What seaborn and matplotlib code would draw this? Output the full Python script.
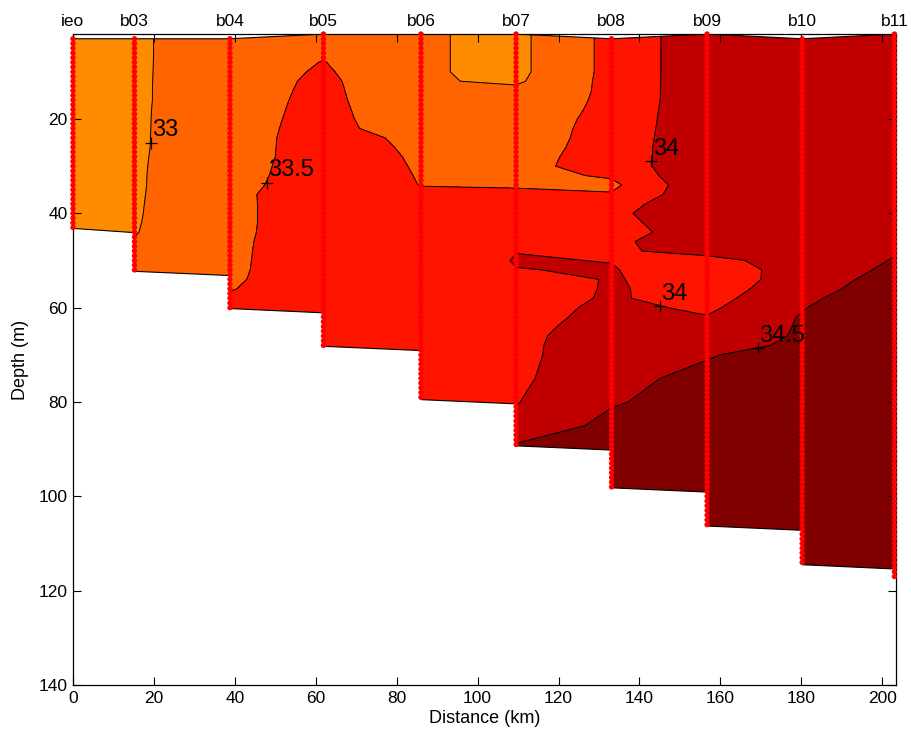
import numpy as np
import pandas as pd
import matplotlib
matplotlib.use("Agg")
import matplotlib.pyplot as plt
import seaborn as sns

# Stations along the section
stations = ["ieo", "b03", "b04", "b05", "b06", "b07", "b08", "b09", "b10", "b11"]
distance_km = [0.0, 15.2, 38.8, 61.9, 86.0, 109.5, 133.1, 156.7, 180.2, 203.0]
surface_depth = [3, 3, 3, 2, 2, 2, 3, 2, 3, 2]
bottom_depth = [43.2, 52.3, 60.2, 68.2, 79.5, 89.3, 98.2, 106.3, 114.5, 117.2]

# Common depth grid (m) of the gridded salinity profiles
grid_depth = list(range(2, 71, 2)) + list(range(75, 121, 5))

# Salinity profiles on grid_depth, from 2 m down to just below each station's bottom
sal_ieo = [32.80] * 23
sal_b03 = [32.950, 32.950, 32.950, 32.947, 32.945, 32.947, 32.942, 32.940, 32.941, 32.941,
           32.940, 32.940, 32.941, 32.947, 32.950, 32.952, 32.952, 32.950, 32.954, 32.959,
           32.968, 32.979, 33.021, 33.050, 33.050, 33.050, 33.050]
sal_b04 = [33.200, 33.200, 33.200, 33.215, 33.228, 33.225, 33.250, 33.260, 33.270, 33.280,
           33.290, 33.300, 33.300, 33.300, 33.310, 33.320, 33.330, 33.380, 33.400, 33.400,
           33.400, 33.420, 33.420, 33.430, 33.440, 33.450, 33.460, 33.480, 33.550, 33.600,
           33.620]
sal_b05 = [33.300, 33.350, 33.450, 33.515, 33.560, 33.606, 33.621, 33.640, 33.656, 33.672,
           33.687, 33.699, 33.706, 33.712, 33.730, 33.749, 33.786, 33.797, 33.740, 33.740,
           33.740, 33.703, 33.733, 33.720, 33.701, 33.681, 33.682, 33.747, 33.750, 33.750,
           33.750, 33.750, 33.760, 33.770, 33.780]
sal_b06 = [33.053, 33.053, 33.053, 33.053, 33.053, 33.050, 33.071, 33.075, 33.107, 33.131,
           33.182, 33.383, 33.423, 33.450, 33.464, 33.478, 33.491, 33.560, 33.650, 33.700,
           33.700, 33.700, 33.700, 33.700, 33.700, 33.700, 33.700, 33.700, 33.700, 33.700,
           33.700, 33.720, 33.740, 33.760, 33.780, 33.800, 33.820, 33.850]
sal_b07 = [32.881, 32.881, 32.881, 32.881, 32.881, 32.929, 33.106, 33.150, 33.200, 33.220,
           33.250, 33.270, 33.280, 33.290, 33.300, 33.350, 33.450, 33.600, 33.700, 33.750,
           33.800, 33.850, 33.900, 33.993, 34.020, 33.993, 33.790, 33.720, 33.780, 33.770,
           33.756, 33.750, 33.800, 33.850, 33.880, 33.920, 33.980, 34.090, 34.630]
sal_b08 = [33.638, 33.638, 33.638, 33.638, 33.638, 33.643, 33.605, 33.613, 33.624, 33.656,
           33.669, 33.676, 33.701, 33.747, 33.784, 33.557, 33.392, 33.536, 33.800, 33.900,
           33.850, 33.850, 33.900, 33.972, 33.992, 34.019, 34.033, 34.049, 34.053, 34.122,
           34.200, 34.331, 34.406, 34.364, 34.309, 34.320, 34.450, 34.656, 34.700, 34.720,
           34.740]
sal_b09 = [34.338, 34.338, 34.338, 34.338, 34.338, 34.339, 34.376, 34.375, 34.388, 34.376,
           34.384, 34.401, 34.396, 34.338, 34.293, 34.450, 34.410, 34.395, 34.363, 34.344,
           34.310, 34.197, 34.306, 34.060, 33.940, 33.790, 33.800, 33.800, 33.800, 33.915,
           34.020, 34.100, 34.150, 34.200, 34.450, 34.674, 34.737, 34.800, 34.820, 34.840,
           34.850, 34.860, 34.870]
sal_b10 = [34.30] * 24 + [34.090, 34.156, 34.153, 34.240, 34.445, 34.470, 34.533, 34.547,
                          34.565, 34.652, 34.807, 34.850, 34.860, 34.870, 34.880, 34.880,
                          34.890, 34.890, 34.900, 34.900, 34.900]
sal_b11 = [34.30] * 23 + [34.450, 34.533, 34.609, 34.751, 34.845, 34.684, 34.970, 34.900,
                          34.900, 34.900, 34.900, 34.900] + [34.90] * 10

profiles = [sal_ieo, sal_b03, sal_b04, sal_b05, sal_b06,
            sal_b07, sal_b08, sal_b09, sal_b10, sal_b11]

# Isohalines and band colours
isohalines = [33.0, 33.5, 34.0, 34.5]
band_colors = ["#FF8C00", "#FF6400", "#FF1400", "#C00000", "#800000"]

# Hand-placed isohaline labels
label_level = [33.0, 33.5, 34.0, 34.0, 34.5]
label_distance = [19.3, 47.9, 142.9, 145.1, 169.2]
label_depth = [25.0, 33.5, 28.9, 59.7, 68.6]

# ---------------------------------------------------------------------------
sns.set_style("ticks")
plt.rcParams["font.family"] = ["Liberation Sans", "DejaVu Sans"]
plt.rcParams["text.color"] = "black"
plt.rcParams["axes.labelcolor"] = "black"
plt.rcParams["xtick.color"] = "black"
plt.rcParams["ytick.color"] = "black"

Z = np.full((len(grid_depth), len(stations)), np.nan)
for j, prof in enumerate(profiles):
    Z[:len(prof), j] = prof
Zm = np.ma.masked_invalid(Z)

fig = plt.figure(figsize=(9.12, 7.40), dpi=100)
ax = fig.add_axes([0.080, 0.0743, 0.9025, 0.8797])

levels = [30.0] + isohalines + [36.0]
ax.contourf(distance_km, grid_depth, Zm, levels=levels, colors=band_colors,
            corner_mask=False, zorder=1)
ax.contour(distance_km, grid_depth, Zm, levels=isohalines, colors="black",
           linewidths=0.7, corner_mask=False, zorder=2)

# Sea floor: white below a gently sloping step between stations
drop = 0.9
fx, fy = [], []
for i in range(len(stations) - 1):
    fx += [distance_km[i], distance_km[i + 1]]
    fy += [bottom_depth[i], bottom_depth[i] + drop]
fx.append(distance_km[-1])
fy.append(bottom_depth[-1])
ax.fill([-5] + fx + [210, 210, -5],
        [bottom_depth[0]] + fy + [bottom_depth[-1], 150, 150],
        color="white", lw=0, zorder=3)
for i in range(len(stations) - 1):
    ax.plot([distance_km[i], distance_km[i + 1]],
            [bottom_depth[i], bottom_depth[i] + drop],
            color="black", lw=0.8, zorder=3.5)

# Sea surface: white above the shallowest sample
ax.fill([-5] + distance_km + [210, 210, -5],
        [surface_depth[0]] + surface_depth + [surface_depth[-1], 0, 0],
        color="white", lw=0, zorder=3)
ax.plot(distance_km, surface_depth, color="black", lw=0.8, zorder=3.5)

# CTD sample depths at each station (1 m bins)
rows = []
for x, top, bot in zip(distance_km, surface_depth, bottom_depth):
    for d in np.arange(top, bot + 0.01, 1.0):
        rows.append({"distance": x, "depth": d})
samples = pd.DataFrame(rows)
sns.scatterplot(data=samples, x="distance", y="depth", color="#FF0000", s=15,
                edgecolor="none", linewidth=0, legend=False, ax=ax,
                zorder=5, clip_on=False)

# Isohaline labels
for lvl, x, d in zip(label_level, label_distance, label_depth):
    ax.plot(x, d, marker="+", color="black", ms=9, mew=0.9, zorder=6)
    ax.annotate(f"{lvl:g}", xy=(x, d), xytext=(1, 4.5), textcoords="offset points",
                ha="left", va="baseline", fontsize=17, zorder=6)

# Station names along the top
for name, x in zip(stations, distance_km):
    ax.annotate(name, xy=(x, 1.0), xycoords=("data", "axes fraction"),
                xytext=(0, 6), textcoords="offset points",
                ha="center", va="baseline", fontsize=12.5)

ax.set_xlim(0, 203.4)
ax.set_ylim(140, 2)
ax.set_xticks(range(0, 201, 20))
ax.set_yticks(range(20, 141, 20))
ax.set_axisbelow(False)
ax.xaxis.set_zorder(4)
ax.yaxis.set_zorder(4)
ax.tick_params(direction="in", top=True, right=True, length=5.5, width=0.8,
               labelsize=12.5, pad=4)
ax.set_xlabel("Distance (km)", fontsize=13, labelpad=3)
ax.set_ylabel("Depth (m)", fontsize=13, labelpad=7)
for sp in ax.spines.values():
    sp.set_linewidth(0.9)
    sp.set_color("black")
    sp.set_zorder(4)

fig.savefig("out.png", dpi=100)
